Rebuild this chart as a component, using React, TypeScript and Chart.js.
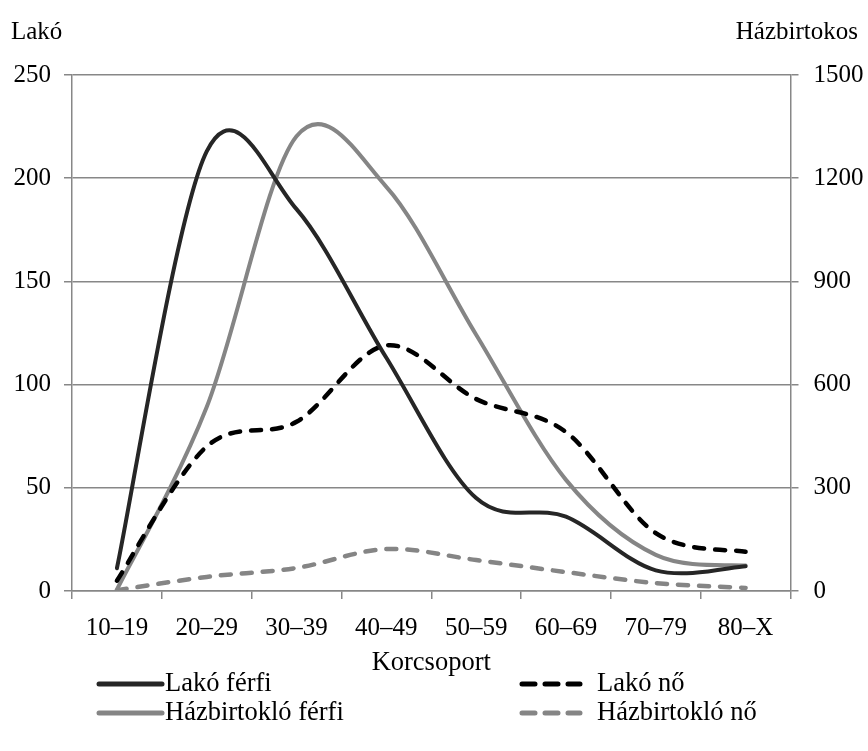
import React, { useEffect, useRef } from "react";
import { Chart, registerables } from "chart.js";

Chart.register(...registerables);

// ---- data ----
const categories = ["10–19", "20–29", "30–39", "40–49", "50–59", "60–69", "70–79", "80–X"];
const lakoFerfi = [11, 213, 185, 113, 45, 36, 10, 12];
const lakoNo = [5, 70, 82, 119, 93, 77, 28, 19];
const hazFerfi = [4, 535, 1322, 1175, 745, 323, 105, 74];
const hazNo = [2, 41, 67, 122, 90, 55, 23, 9];
const leftTicks = [0, 50, 100, 150, 200, 250];
const rightTicks = [0, 300, 600, 900, 1200, 1500];
const seriesNames = ["Lakó férfi", "Lakó nő", "Házbirtokló férfi", "Házbirtokló nő"];
const leftTitle = "Lakó";
const rightTitle = "Házbirtokos";
const xTitle = "Korcsoport";

const FONT = '"Liberation Serif", "Times New Roman", serif';
const GRID = "#878787";

// Uniform Catmull-Rom control points (spreadsheet-style smoothing) on the
// points that Chart.js positioned through its scales.
const smoothPlugin = {
  id: "smooth",
  beforeDatasetDraw(chart: any, args: any) {
    const meta = chart.getDatasetMeta(args.index);
    const line = meta.dataset;
    const pts = meta.data;
    const n = pts.length;
    for (let i = 0; i < n; i++) {
      const p = pts[i];
      const prev = pts[Math.max(0, i - 1)];
      const next = pts[Math.min(n - 1, i + 1)];
      const dx = (next.x - prev.x) / 6;
      const dy = (next.y - prev.y) / 6;
      p.cp1x = p.x - dx;
      p.cp1y = p.y - dy;
      p.cp2x = p.x + dx;
      p.cp2y = p.y + dy;
    }
    if (line) {
      line._pointsUpdated = true;
      delete line._path;
    }
  },
};

const overlayPlugin = {
  id: "overlay",
  afterDraw(chart: any) {
    const ctx = chart.ctx as CanvasRenderingContext2D;
    ctx.save();
    ctx.fillStyle = "#000";
    ctx.font = `25px ${FONT}`;
    ctx.textBaseline = "middle";
    ctx.textAlign = "left";
    ctx.fillText(leftTitle, 11, 32);
    ctx.textAlign = "right";
    ctx.fillText(rightTitle, 858, 32);

    const slots = [
      { x1: 97, x2: 162, tx: 165, y: 684 },
      { x1: 520, x2: 580, tx: 597, y: 684 },
      { x1: 97, x2: 162, tx: 165, y: 713 },
      { x1: 520, x2: 580, tx: 597, y: 713 },
    ];
    ctx.font = `26.5px ${FONT}`;
    [0, 1, 2, 3].forEach((di, i) => {
      const ds = chart.data.datasets[di];
      const s = slots[i];
      ctx.beginPath();
      ctx.strokeStyle = ds.borderColor;
      ctx.lineWidth = 5;
      ctx.lineCap = "round";
      if (ds.borderDash && ds.borderDash.length) {
        ctx.setLineDash([13, 10]);
      } else {
        ctx.setLineDash([]);
      }
      ctx.moveTo(s.x1 + 2, s.y);
      ctx.lineTo(s.x2, s.y);
      ctx.stroke();
      ctx.setLineDash([]);
      ctx.fillStyle = "#000";
      ctx.textAlign = "left";
      ctx.textBaseline = "middle";
      ctx.fillText(ds.label, s.tx, s.y);
    });
    ctx.restore();
  },
};

export default function App() {
  const ref = useRef<HTMLCanvasElement | null>(null);

  useEffect(() => {
    document.body.style.margin = "0";
    if (!ref.current) return;
    Chart.defaults.font.family = FONT;
    Chart.defaults.font.size = 25;
    Chart.defaults.color = "#000";

    const common = { tension: 0.3, pointRadius: 0, borderCapStyle: "round" };

    const chart = new Chart(ref.current, {
      type: "line",
      data: {
        labels: categories,
        datasets: [
          { label: seriesNames[0], data: lakoFerfi, yAxisID: "y", borderColor: "#262626", borderWidth: 4, ...common },
          { label: seriesNames[1], data: lakoNo, yAxisID: "y", borderColor: "#000000", borderWidth: 4.5, borderDash: [10, 11], ...common },
          { label: seriesNames[2], data: hazFerfi, yAxisID: "y1", borderColor: "#858585", borderWidth: 4, ...common },
          { label: seriesNames[3], data: hazNo, yAxisID: "y1", borderColor: "#858585", borderWidth: 4.5, borderDash: [10, 11], ...common },
        ],
      },
      options: {
        responsive: false,
        animation: false,
        layout: { padding: { top: 75, left: 0, right: 0, bottom: 0 } },
        plugins: {
          legend: { display: false },
          tooltip: { enabled: false },
        },
        scales: {
          x: {
            type: "category",
            offset: true,
            grid: {
              offset: true,
              drawOnChartArea: false,
              drawTicks: true,
              tickLength: 8,
              color: GRID,
              lineWidth: 1.5,
            },
            border: { display: true, color: GRID, width: 1.5 },
            ticks: { padding: 14, autoSkip: false, maxRotation: 0, font: { size: 25 } },
            title: {
              display: true,
              text: xTitle,
              font: { size: 26.5 },
              padding: { top: 0, bottom: 72 },
            },
            afterFit: (s: any) => {
              s.height = 160;
            },
          },
          y: {
            position: "left",
            min: 0,
            max: 250,
            afterBuildTicks: (s: any) => {
              s.ticks = leftTicks.map((v) => ({ value: v }));
            },
            grid: { color: GRID, lineWidth: 1.5, tickLength: 8, drawTicks: true },
            border: { display: true, color: GRID, width: 1.5 },
            ticks: { padding: 13, font: { size: 25 }, callback: (v: any) => String(v) },
            afterFit: (s: any) => {
              s.width = 72;
            },
          },
          y1: {
            position: "right",
            min: 0,
            max: 1500,
            afterBuildTicks: (s: any) => {
              s.ticks = rightTicks.map((v) => ({ value: v }));
            },
            grid: { drawOnChartArea: false, color: GRID, lineWidth: 1.5, tickLength: 8, drawTicks: true },
            border: { display: true, color: GRID, width: 1.5 },
            ticks: { padding: 15, font: { size: 25 }, callback: (v: any) => String(v) },
            afterFit: (s: any) => {
              s.width = 77.5;
            },
          },
        },
      },
      plugins: [smoothPlugin, overlayPlugin],
    } as any);

    return () => {
      chart.destroy();
    };
  }, []);

  return (
    <div style={{ width: 868, height: 751, position: "relative" }}>
      <canvas ref={ref} width={868} height={751} style={{ display: "block" }} />
    </div>
  );
}
